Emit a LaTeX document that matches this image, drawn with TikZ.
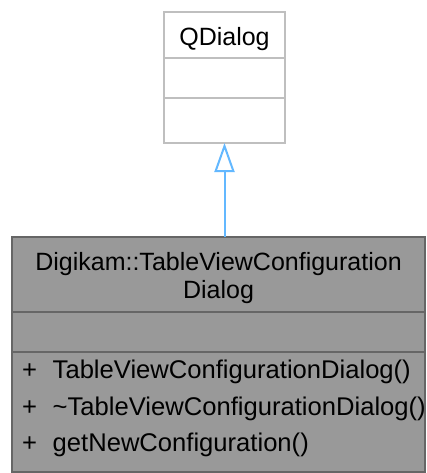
\documentclass[tikz,border=0pt]{standalone}
\usepackage{fontspec}
\setmainfont{Liberation Sans}
\usetikzlibrary{arrows.meta, positioning}
\definecolor{edgeblue}{HTML}{63B8FF}
\definecolor{basegray}{HTML}{BFBFBF}
\definecolor{clsfill}{HTML}{999999}
\definecolor{clsdraw}{HTML}{666666}
\newcommand{\namestrut}{\rule{0pt}{25.5pt}}

\begin{document}
\begin{tikzpicture}[
  x=1pt, y=1pt,
  >={Triangle[length=29pt, width=20pt, fill=white]},
  base/.style={draw=basegray, line width=2pt, fill=white, minimum width=121pt,
    inner sep=0pt, outer sep=0pt, font=\fontsize{25}{28.3}\selectfont},
  cls/.style={draw=clsdraw, line width=2pt, fill=clsfill, minimum width=413pt,
    inner sep=0pt, outer sep=0pt, align=center, font=\fontsize{25}{28.3}\selectfont},
  member/.style={anchor=base west, inner sep=0pt, font=\fontsize{25.6}{28}\selectfont},
  inherit/.style={->, line width=2pt, edgeblue},
]

% Page frame
\useasboundingbox (0,0) rectangle (426,-473);

% =============================================
% Base class: QDialog
% =============================================
\node[base, minimum height=46pt] (qdlg) at (224.5,-35) {\namestrut QDialog};
\node[base, minimum height=40pt, below=0pt of qdlg] (qdlgattr) {};
\node[base, minimum height=45pt, below=0pt of qdlgattr] (qdlgops) {};

% =============================================
% Derived class: TableViewConfigurationDialog
% =============================================
\node[cls, minimum height=75pt] (tvcd) at (218.5,-274.5)
  {\namestrut Digikam::TableViewConfiguration\\Dialog};
\node[cls, minimum height=40pt, below=0pt of tvcd] (tvcdattr) {};
\node[cls, minimum height=120pt, below=0pt of tvcdattr] (tvcdops) {};

% Members
\node[member] (pl1) at (22,-378.5) {+};
\node[member] (op1) at (52.5,-378.5) {TableViewConfigurationDialog()};
\node[member] (pl2) at (22,-415) {+};
\node[member] (op2) at (52.5,-415) {\textasciitilde TableViewConfigurationDialog()};
\node[member] (pl3) at (22,-451.5) {+};
\node[member] (op3) at (52.5,-451.5) {getNewConfiguration()};

% Inheritance
\draw[inherit] (tvcd.north -| qdlgops.south) -- (qdlgops.south);

\end{tikzpicture}
\end{document}
